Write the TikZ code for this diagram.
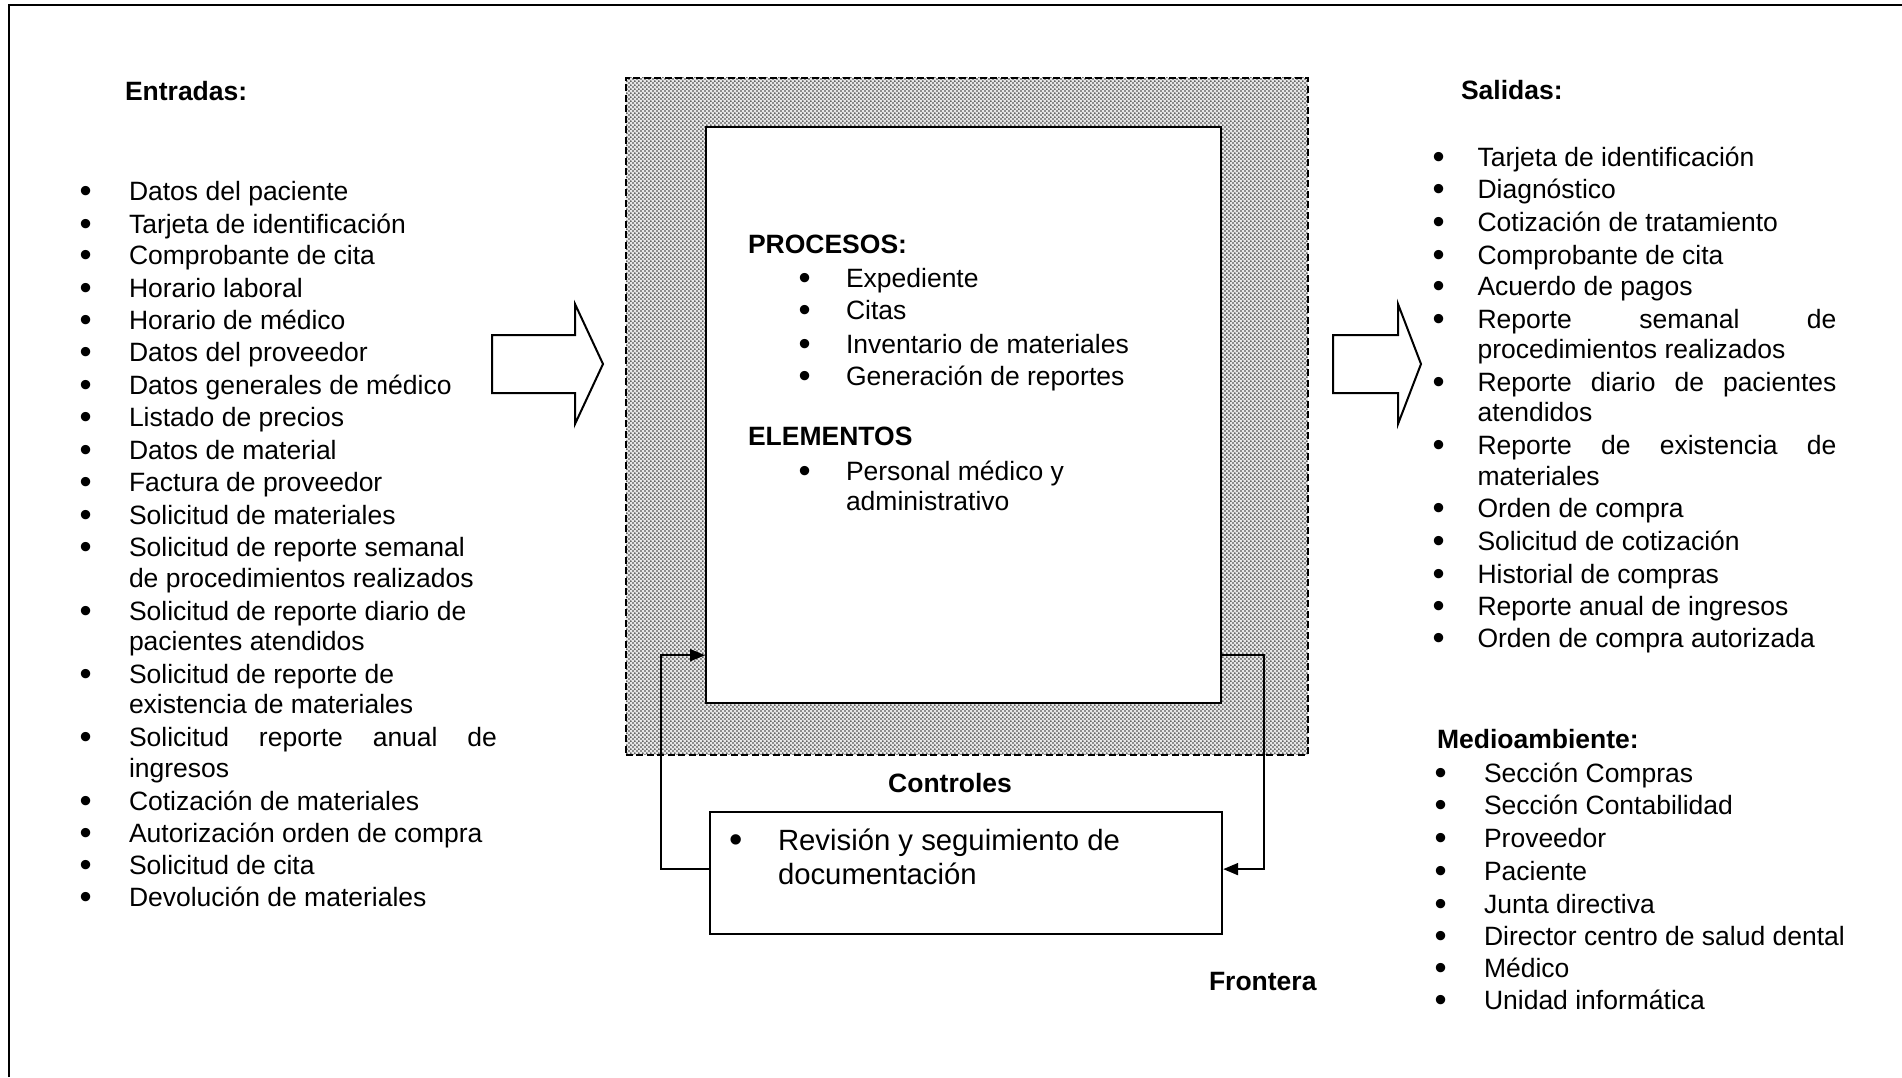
\documentclass[tikz,border=0pt]{standalone}
\usepackage{fontspec}
\setmainfont{Liberation Sans}
\usetikzlibrary{patterns,arrows.meta}
\pgfdeclarepatternformonly{mydots}{\pgfqpoint{0pt}{0pt}}{\pgfqpoint{4.4pt}{4.4pt}}{\pgfqpoint{4.4pt}{4.4pt}}{%
  \pgfpathcircle{\pgfqpoint{1.1pt}{1.1pt}}{1.05pt}%
  \pgfpathcircle{\pgfqpoint{3.3pt}{3.3pt}}{1.05pt}%
  \pgfusepath{fill}}
\newcommand\myfs{\fontsize{26.5pt}{32pt}\selectfont}
\newcommand\myfsb{\fontsize{29.3pt}{34pt}\selectfont}
\newcommand\bl[1]{\makebox[#1][l]{\raisebox{-2.4pt}{\scalebox{1.3}{•}}}}
\begin{document}
\begin{tikzpicture}[x=1pt,y=-1pt,
  txt/.style={anchor=base west, inner sep=0pt, outer sep=0pt, font=\myfs},
  hd/.style={anchor=base west, inner sep=0pt, outer sep=0pt, font=\myfs\bfseries},
  frontbox/.style={draw, dash pattern=on 7pt off 3.5pt, line width=1.8pt,
     preaction={fill=gray!18}, pattern=mydots, pattern color=black!80,
     anchor=north west, inner sep=0pt},
  procbox/.style={draw, line width=2.2pt, fill=white, anchor=north west, inner sep=0pt},
  conn/.style={line width=2pt, -{Triangle[length=15pt,width=12pt]}},
  bigarrow/.style={draw, line width=2pt, fill=white, line join=miter}
]
\useasboundingbox (0,0) rectangle (1902,1077);
% outer frame (top and left edges)
\draw[line width=2.4pt] (9,1077) -- (9,5) -- (1902,5);

% boundary (shaded) and process box
\node[frontbox, minimum width=682pt, minimum height=677pt] (frontera) at (625,77) {};
\node[procbox, minimum width=515pt, minimum height=576pt] (proc) at (705,126) {};
\node[procbox, minimum width=512pt, minimum height=122pt] (ctrl) at (709,811) {};

% feedback connectors
\draw[conn] ([yshift=4pt]ctrl.west) -- ++(-48,0) |- ([yshift=49pt]proc.south west);
\draw[conn] ([yshift=49pt]proc.south east) -- ++(42,0) |- ([yshift=4pt]ctrl.east);

% block arrows
\draw[bigarrow] (492,335) -- (575,335) -- (575,304) -- (603,364) -- (575,424) -- (575,393) -- (492,393) -- cycle;
\draw[bigarrow] (1333,335) -- (1398,335) -- (1398,304) -- (1421,364) -- (1398,424) -- (1398,393) -- (1333,393) -- cycle;

% Entradas
\node[hd] (entradas) at (125,100) {Entradas:};
\foreach \y/\t [count=\i] in {200/Datos del paciente, 233/Tarjeta de identificación,
  264/Comprobante de cita, 297/Horario laboral, 329/Horario de médico,
  361.5/Datos del proveedor, 394/Datos generales de médico, 426.5/Listado de precios,
  459/Datos de material, 491.5/Factura de proveedor, 524/Solicitud de materiales,
  556.5/Solicitud de reporte semanal, 620.5/Solicitud de reporte diario de,
  683.5/Solicitud de reporte de, 810/Cotización de materiales,
  842/Autorización orden de compra, 874.5/Solicitud de cita, 906/Devolución de materiales}
  {\node[txt] (in\i) at (79.5,\y) {\bl{49.5pt}\t};}
\node[txt] (inA) at (79.5,746.5) {\bl{49.5pt}\makebox[368pt][s]{Solicitud reporte anual de}};
\foreach \y/\t [count=\i] in {587.5/de procedimientos realizados, 650.5/pacientes atendidos,
  713/existencia de materiales, 777/ingresos}
  {\node[txt] (inc\i) at (129,\y) {\t};}

% Salidas
\node[hd] (salidas) at (1461,99) {Salidas:};
\foreach \y/\t [count=\i] in {166/Tarjeta de identificación, 198.5/Diagnóstico,
  231.5/Cotización de tratamiento, 264.5/Comprobante de cita, 295.5/Acuerdo de pagos,
  517.5/Orden de compra, 550.5/Solicitud de cotización, 583/Historial de compras,
  615/Reporte anual de ingresos, 647/Orden de compra autorizada}
  {\node[txt] (out\i) at (1432.5,\y) {\bl{45pt}\t};}
\node[txt] (outA) at (1432.5,328.5) {\bl{45pt}\makebox[359pt][s]{Reporte semanal de}};
\node[txt] (outB) at (1432.5,391.5) {\bl{45pt}\makebox[359pt][s]{Reporte diario de pacientes}};
\node[txt] (outC) at (1432.5,454.5) {\bl{45pt}\makebox[359pt][s]{Reporte de existencia de}};
\node[txt] (outAc) at (1477.5,358.5) {procedimientos realizados};
\node[txt] (outBc) at (1477.5,421.5) {atendidos};
\node[txt] (outCc) at (1477.5,485.5) {materiales};

% Medioambiente
\node[hd] (medio) at (1437,748) {Medioambiente:};
\foreach \y/\t [count=\i] in {782/Sección Compras, 814.5/Sección Contabilidad, 847.5/Proveedor,
  880/Paciente, 913/Junta directiva, 945/Director centro de salud dental,
  977/Médico, 1009/Unidad informática}
  {\node[txt] (med\i) at (1434.5,\y) {\bl{49.5pt}\t};}

% Procesos / Elementos
\node[hd] (procesos) at (748,253) {PROCESOS:};
\foreach \y/\t [count=\i] in {287/Expediente, 319/Citas, 353/Inventario de materiales,
  385/Generación de reportes, 480/Personal médico y}
  {\node[txt] (pr\i) at (798.5,\y) {\bl{47.5pt}\t};}
\node[hd] (elementos) at (748,445) {ELEMENTOS};
\node[txt] (prc) at (846,510) {administrativo};

% Controles
\node[hd, anchor=base] (controles) at (950,792) {Controles};
\node[txt, font=\myfsb] (ct1) at (729,850) {\bl{49pt}Revisión y seguimiento de};
\node[txt, font=\myfsb] (ct2) at (778,884) {documentación};

\node[hd] (fronteralbl) at (1209,990) {Frontera};
\end{tikzpicture}
\end{document}
